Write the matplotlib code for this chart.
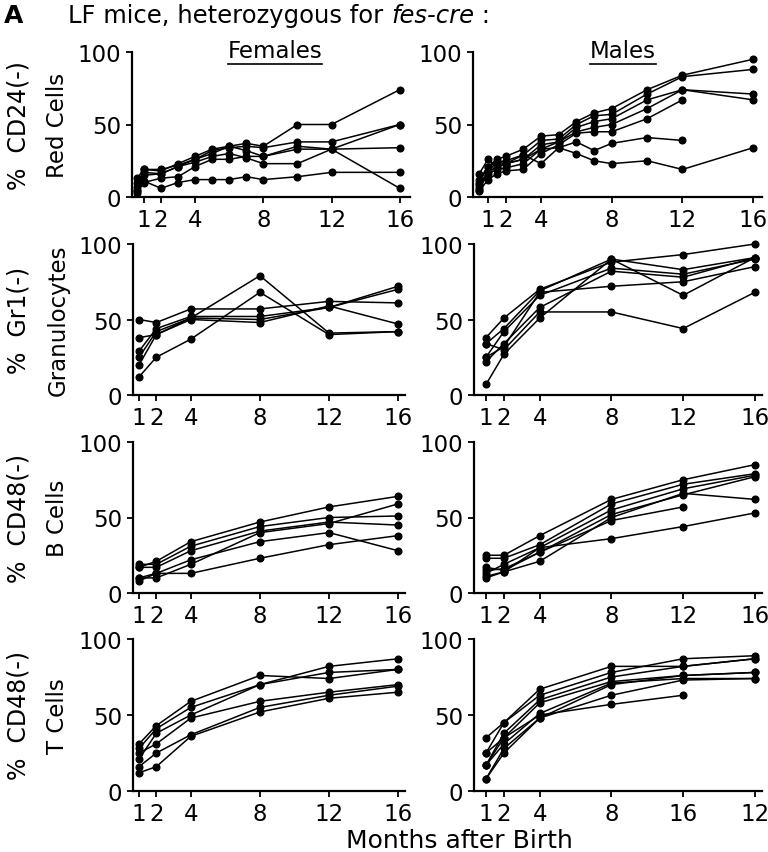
import numpy as np
import matplotlib.pyplot as plt

nan = np.nan

# months after birth
months_rbc_f = [0.6, 1, 2, 3, 4, 5, 6, 7, 8, 10, 12, 16]
months_rbc_m = [0.5, 1, 1.5, 2, 3, 4, 5, 6, 7, 8, 10, 12, 16]
months = [1, 2, 4, 8, 12, 16]

# % CD24(-) red cells
rbc_f = [
    [7, 19, 18, 23, 28, 33, 35, 37, 35, 50, 50, 74],
    [5, 17, 16, 21, 26, 32, 34, 35, 34, 38, 38, 50],
    [10, 15, 16, 21, 24, 28, 30, 27, 23, 23, 33, 50],
    [13, 19, 19, 22, 26, 30, 35, 32, 28, 33, 33, 34],
    [4, 10, 13, 14, 21, 26, 26, 28, 28, 35, 33, 6],
    [3, 11, 6, 10, 12, 12, 12, 14, 12, 14, 17, 17],
]
rbc_m = [
    [12, 21, 26, 28, 33, 42, 43, 52, 58, 61, 74, 84, 95],
    [8, 18, 24, 25, 29, 39, 40, 50, 56, 57, 71, 83, 88],
    [16, 26, 21, 23, 26, 36, 38, 48, 52, 54, 67, 74, 71],
    [6, 16, 19, 20, 23, 33, 38, 45, 48, 50, 61, 74, 67],
    [4, 12, 16, 18, 19, 30, 36, 44, 45, 45, 54, 67, nan],
    [10, 21, 24, 23, 26, 33, 34, 38, 32, 37, 41, 39, nan],
    [5, 18, 20, 23, 29, 23, 34, 30, 25, 23, 25, 19, 34],
]

# % Gr1(-) granulocytes
gran_f = [
    [50, 48, 57, 57, 62, 61],
    [38, 40, 51, 79, 41, 42],
    [12, 25, 37, 68, 40, 42],
    [29, 44, 52, 52, 58, 72],
    [25, 42, 51, 50, 58, 70],
    [20, 40, 50, 48, 59, 47],
]
gran_m = [
    [38, 51, 70, 88, 93, 100],
    [34, 44, 69, 90, 83, 91],
    [25, 42, 66, 84, 80, 90],
    [22, 34, 58, 82, 78, 91],
    [25, 32, 68, 72, 75, 85],
    [7, 27, 51, 90, 66, 91],
    [34, 30, 55, 55, 44, 68],
]

# % CD48(-) B cells
bcell_f = [
    [17, 21, 34, 47, 57, 64],
    [19, 19, 31, 44, 50, 51],
    [17, 17, 28, 41, 47, 45],
    [10, 10, 19, 40, 46, 59],
    [8, 13, 22, 34, 40, 28],
    [10, 13, 13, 23, 32, 38],
]
bcell_m = [
    [25, 25, 38, 62, 75, 85],
    [23, 23, 32, 59, 72, 79],
    [13, 19, 30, 55, 69, 78],
    [17, 15, 27, 52, 65, 77],
    [10, 14, 21, 50, 66, 62],
    [15, 16, 27, 48, 57, nan],
    [11, 14, 30, 36, 44, 53],
]

# % CD48(-) T cells
tcell_f = [
    [31, 43, 59, 76, 74, 80],
    [28, 41, 55, 70, 82, 87],
    [21, 38, 50, 70, 78, 80],
    [25, 31, 48, 59, 65, 70],
    [16, 25, 37, 55, 63, 69],
    [12, 16, 36, 52, 61, 65],
]
tcell_m = [
    [35, 45, 67, 82, 82, 87],
    [25, 45, 63, 78, 87, 89],
    [17, 38, 60, 75, 82, 87],
    [25, 35, 58, 72, 76, 78],
    [17, 31, 51, 71, 74, 74],
    [8, 25, 48, 63, 73, 74],
    [17, 35, 50, 57, 63, nan],
    [8, 28, 48, 70, 76, 78],
]

xticks = [1, 2, 4, 8, 12, 16]
xticklabels = ['1', '2', '4', '8', '12', '16']
xticklabels_last = ['1', '2', '4', '8', '16', '12']  # as printed in the figure
ylab1 = ['%  CD24(-)', '%  Gr1(-)', '%  CD48(-)', '%  CD48(-)']
ylab2 = ['Red Cells', 'Granulocytes', 'B Cells', 'T Cells']

plt.rcParams['font.family'] = 'DejaVu Sans'
W, H = 768, 853
fig = plt.figure(figsize=(W / 100, H / 100), dpi=100)

rows_px = [(53, 198), (245, 396), (443, 594), (640, 792)]
panels = [
    (months_rbc_f, rbc_f, months_rbc_m, rbc_m),
    (months, gran_f, months, gran_m),
    (months, bcell_f, months, bcell_m),
    (months, tcell_f, months, tcell_m),
]


def make_ax(left_px, width_px, top_px, bot_px):
    return fig.add_axes([left_px / W, 1 - bot_px / H, width_px / W, (bot_px - top_px) / H])


def style(ax, xlim, labels):
    ax.set_xlim(*xlim)
    ax.set_ylim(0, 100)
    ax.spines['top'].set_visible(False)
    ax.spines['right'].set_visible(False)
    ax.spines['left'].set_linewidth(1.6)
    ax.spines['bottom'].set_linewidth(1.6)
    ax.set_xticks(xticks)
    ax.set_xticklabels(labels)
    ax.set_yticks([0, 50, 100])
    ax.tick_params(direction='out', length=4, width=1.3, labelsize=16.5, pad=4)


for i, (xf, yf, xm, ym) in enumerate(panels):
    top, bot = rows_px[i]
    if i == 0:
        axf = make_ax(132, 278, top, bot)
        axm = make_ax(473, 289, top, bot)
        xl_f, xl_m = (0.3, 16.6), (0.15, 16.5)
    else:
        axf = make_ax(133, 272, top, bot)
        axm = make_ax(474, 288, top, bot)
        xl_f, xl_m = (0.65, 16.4), (0.33, 16.4)
    for ax, x, ys in [(axf, xf, yf), (axm, xm, ym)]:
        for y in ys:
            ax.plot(x, y, color='black', lw=1.1, marker='o', ms=4.8, clip_on=False)
    style(axf, xl_f, xticklabels)
    style(axm, xl_m, xticklabels_last if i == 3 else xticklabels)

    yc = 1 - (top + bot) / 2 / H
    fig.text(19 / W, yc, ylab1[i], rotation=90, ha='center', va='center', fontsize=17)
    fig.text(58 / W, yc, ylab2[i], rotation=90, ha='center', va='center', fontsize=16.5)

# header
fig.text(4 / W, 1 - 16 / H, 'A', fontsize=18, fontweight='bold', va='center')
t1 = fig.text(68 / W, 1 - 16 / H, 'LF mice, heterozygous for ', fontsize=17.5, va='center')
t2 = plt.annotate('fes-cre', xy=(1, 0), xycoords=t1, va='bottom', fontsize=17.5, style='italic')
plt.annotate(' :', xy=(1, 0), xycoords=t2, va='bottom', fontsize=17.5)

# column headings
for xc, name in [(275, 'Females'), (623, 'Males')]:
    t = fig.text(xc / W, 1 - 52 / H, name, ha='center', va='center', fontsize=16.5)
    fig.canvas.draw()
    bb = t.get_window_extent()
    fig.add_artist(plt.Line2D([bb.x0 / W, bb.x1 / W], [(bb.y0 - 1) / H, (bb.y0 - 1) / H],
                              color='black', lw=1.2))

fig.text(459 / W, 1 - 841 / H, 'Months after Birth', ha='center', va='center', fontsize=18)

fig.savefig('out.png', dpi=100)
